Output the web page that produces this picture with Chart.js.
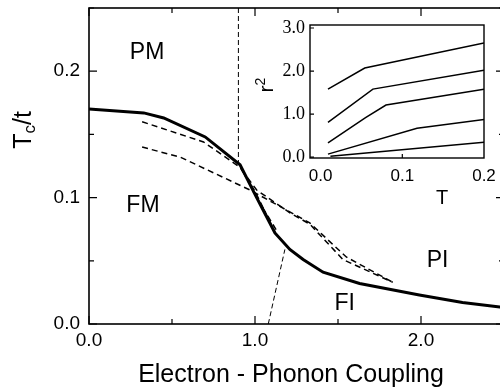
<!DOCTYPE html>
<html>
<head>
<meta charset="utf-8">
<script src="https://cdn.jsdelivr.net/npm/chart.js@4.4.0/dist/chart.umd.min.js"></script>
<style>
  html, body { margin: 0; padding: 0; background: #fff; }
  #wrap { position: relative; width: 500px; height: 389px; overflow: hidden; }
  #main { position: absolute; left: 0; top: 0; }
  #inset { position: absolute; left: 255px; top: 5px; }
</style>
</head>
<body>
<div id="wrap">
  <canvas id="main" width="506" height="389"></canvas>
  <canvas id="inset" width="245" height="210"></canvas>
</div>
<script>
// main panel: Tc/t against electron-phonon coupling
const solidX = [0, 0.33, 0.45, 0.70, 0.91, 1.01, 1.12, 1.21, 1.29, 1.41, 1.63, 1.99, 2.25, 2.5];
const solidY = [0.170, 0.167, 0.163, 0.148, 0.126, 0.100, 0.072, 0.059, 0.051, 0.041, 0.032, 0.023, 0.017, 0.013];

const upperDashX = [0.32, 0.69, 0.91, 1.00, 1.12];
const upperDashY = [0.160, 0.144, 0.124, 0.105, 0.073];
const steepDashX = [0.93, 1.01, 1.13];
const steepDashY = [0.120, 0.100, 0.074];
const rightDashX = [0.92, 1.01, 1.21, 1.33, 1.53, 1.83];
const rightDashY = [0.122, 0.106, 0.088, 0.079, 0.051, 0.033];
const lowerDashX = [0.32, 0.55, 0.97, 1.15, 1.33, 1.55, 1.83];
const lowerDashY = [0.140, 0.132, 0.106, 0.093, 0.080, 0.053, 0.033];
const vertDashX = [0.90, 0.90];
const vertDashY = [0.25, 0.124];
const footDashX = [1.08, 1.18];
const footDashY = [0.0, 0.059];

const couplingTicks = [0, 0.5, 1.0, 1.5, 2.0, 2.5];
const couplingLabels = ['0.0', '', '1.0', '', '2.0', ''];
const tcTicks = [0, 0.05, 0.1, 0.15, 0.2, 0.25];
const tcLabels = ['0.0', '', '0.1', '', '0.2', ''];

const phases = ['PM', 'FM', 'PI', 'FI'];
const phaseX = [0.35, 0.325, 2.10, 1.54];
const phaseY = [0.215, 0.094, 0.050, 0.016];

// inset: r^2 against T
const curve1T = [0.009, 0.054, 0.2];
const curve1R = [1.58, 2.07, 2.65];
const curve2T = [0.009, 0.064, 0.2];
const curve2R = [0.81, 1.58, 2.02];
const curve3T = [0.009, 0.055, 0.08, 0.2];
const curve3R = [0.33, 0.92, 1.21, 1.58];
const curve4T = [0.009, 0.118, 0.203];
const curve4R = [0.07, 0.67, 0.88];
const curve5T = [0.012, 0.203];
const curve5R = [0.02, 0.35];

const tTicks = [0, 0.1, 0.2];
const tLabels = ['0.0', '0.1', '0.2'];
const r2Ticks = [0, 1, 2, 3];
const r2Labels = ['0.0', '1.0', '2.0', '3.0'];

const SANS = '"Liberation Sans", Arial, sans-serif';
const SERIF = '"Liberation Serif", "Times New Roman", serif';

function line(xs, ys, extra) {
  return Object.assign({
    data: xs.map((x, i) => ({ x, y: ys[i] })),
    showLine: true, pointRadius: 0, borderColor: '#000', fill: false, tension: 0,
    borderWidth: 1.5
  }, extra);
}

// keep the plot area where it is set, no extra room for end labels
function pinX(h) {
  return s => { s.height = h; s.paddingLeft = 0; s.paddingRight = 0; };
}
function pinY(w) {
  return s => { s.width = w; s.paddingTop = 0; s.paddingBottom = 0; };
}

// frame + inward ticks; labelled ticks are drawn longer
const frameTicks = {
  id: 'frameTicks',
  afterDraw(chart, args, o) {
    const { ctx, chartArea: a, scales: { x, y } } = chart;
    ctx.save();
    ctx.strokeStyle = '#000';
    ctx.lineWidth = o.frame;
    ctx.strokeRect(a.left, a.top, a.right - a.left, a.bottom - a.top);
    ctx.lineWidth = 1.2;
    ctx.beginPath();
    x.ticks.forEach((t, i) => {
      const px = x.getPixelForValue(t.value);
      const len = o.xLabels[i] ? o.major : o.minor;
      if (!len) return;
      ctx.moveTo(px, a.bottom); ctx.lineTo(px, a.bottom - len);
      if (o.mirror) { ctx.moveTo(px, a.top); ctx.lineTo(px, a.top + len); }
    });
    y.ticks.forEach((t, i) => {
      const py = y.getPixelForValue(t.value);
      const len = o.yLabels[i] ? o.major : o.minor;
      ctx.moveTo(a.left, py); ctx.lineTo(a.left + len, py);
      if (o.mirror) { ctx.moveTo(a.right, py); ctx.lineTo(a.right - len, py); }
    });
    ctx.stroke();
    ctx.restore();
  }
};

const mainText = {
  id: 'mainText',
  afterDraw(chart) {
    const { ctx, scales: { x, y } } = chart;
    ctx.save();
    ctx.fillStyle = '#000';
    ctx.textAlign = 'center';
    ctx.textBaseline = 'middle';
    ctx.font = '23px ' + SANS;
    phases.forEach((p, i) => {
      ctx.fillText(p, x.getPixelForValue(phaseX[i]), y.getPixelForValue(phaseY[i]));
    });
    ctx.textBaseline = 'alphabetic';
    ctx.font = '25px ' + SANS;
    ctx.fillText('Electron - Phonon Coupling', 291, 382);
    // y title with subscript
    ctx.translate(31, 130);
    ctx.rotate(-Math.PI / 2);
    ctx.textAlign = 'left';
    ctx.font = '25px ' + SANS;
    const wT = ctx.measureText('T').width;
    ctx.font = '17px ' + SANS;
    const wc = ctx.measureText('c').width;
    ctx.font = '25px ' + SANS;
    const wt = ctx.measureText('/t').width;
    let px = -(wT + wc + wt) / 2;
    ctx.fillText('T', px, 0); px += wT;
    ctx.font = '17px ' + SANS;
    ctx.fillText('c', px, 4); px += wc;
    ctx.font = '25px ' + SANS;
    ctx.fillText('/t', px, 0);
    ctx.restore();
  }
};

new Chart(document.getElementById('main'), {
  type: 'scatter',
  data: {
    datasets: [
      line(solidX, solidY, { borderWidth: 3 }),
      line(upperDashX, upperDashY, { borderDash: [6, 4] }),
      line(steepDashX, steepDashY, { borderDash: [6, 4] }),
      line(rightDashX, rightDashY, { borderDash: [6, 4] }),
      line(lowerDashX, lowerDashY, { borderDash: [6, 4] }),
      line(vertDashX, vertDashY, { borderWidth: 1, borderDash: [5, 3] }),
      line(footDashX, footDashY, { borderWidth: 1, borderDash: [5, 3] })
    ]
  },
  options: {
    responsive: false,
    animation: false,
    layout: { padding: { left: 0, right: 2, top: 8, bottom: 2 } },
    plugins: {
      legend: { display: false },
      tooltip: { enabled: false },
      frameTicks: { frame: 1.6, major: 8, minor: 5, mirror: true, xLabels: couplingLabels, yLabels: tcLabels }
    },
    scales: {
      x: {
        type: 'linear', min: 0, max: 2.5,
        afterBuildTicks: s => { s.ticks = couplingTicks.map(v => ({ value: v })); },
        ticks: { callback: (v, i) => couplingLabels[i], autoSkip: false, maxRotation: 0, padding: 5,
                 color: '#000', font: { family: SANS, size: 19 } },
        grid: { display: false, drawTicks: false },
        border: { display: false },
        afterFit: pinX(63)
      },
      y: {
        type: 'linear', min: 0, max: 0.25,
        afterBuildTicks: s => { s.ticks = tcTicks.map(v => ({ value: v })); },
        ticks: { callback: (v, i) => tcLabels[i], autoSkip: false, padding: 9,
                 color: '#000', font: { family: SANS, size: 19 } },
        grid: { display: false, drawTicks: false },
        border: { display: false },
        afterFit: pinY(89)
      }
    }
  },
  plugins: [frameTicks, mainText]
});

const insetText = {
  id: 'insetText',
  afterDraw(chart) {
    const { ctx } = chart;
    ctx.save();
    ctx.fillStyle = '#000';
    ctx.textAlign = 'center';
    ctx.textBaseline = 'alphabetic';
    ctx.font = '20px ' + SANS;
    ctx.fillText('T', 187, 199);
    ctx.translate(18, 80);
    ctx.rotate(-Math.PI / 2);
    ctx.textAlign = 'left';
    ctx.font = '21px ' + SANS;
    const wr = ctx.measureText('r').width;
    ctx.font = '14px ' + SANS;
    const w2 = ctx.measureText('2').width;
    let px = -(wr + w2) / 2;
    ctx.font = '21px ' + SANS;
    ctx.fillText('r', px, 0); px += wr;
    ctx.font = '14px ' + SANS;
    ctx.fillText('2', px, -8);
    ctx.restore();
  }
};

new Chart(document.getElementById('inset'), {
  type: 'scatter',
  data: {
    datasets: [
      line(curve1T, curve1R),
      line(curve2T, curve2R),
      line(curve3T, curve3R),
      line(curve4T, curve4R),
      line(curve5T, curve5R)
    ]
  },
  options: {
    responsive: false,
    animation: false,
    layout: { padding: { left: 0, right: 16, top: 20, bottom: 0 } },
    plugins: {
      legend: { display: false },
      tooltip: { enabled: false },
      frameTicks: { frame: 1.4, major: 4, minor: 0, mirror: false, xLabels: ['', '0.1', ''], yLabels: r2Labels }
    },
    scales: {
      x: {
        type: 'linear', min: -0.013, max: 0.2,
        afterBuildTicks: s => { s.ticks = tTicks.map(v => ({ value: v })); },
        ticks: { callback: (v, i) => tLabels[i], autoSkip: false, maxRotation: 0, padding: 8,
                 color: '#000', font: { family: SANS, size: 17 } },
        grid: { display: false, drawTicks: false },
        border: { display: false },
        afterFit: pinX(57)
      },
      y: {
        type: 'linear', min: -0.02, max: 3.07,
        afterBuildTicks: s => { s.ticks = r2Ticks.map(v => ({ value: v })); },
        ticks: { callback: (v, i) => r2Labels[i], autoSkip: false, padding: 5,
                 color: '#000', font: { family: SERIF, size: 18 } },
        grid: { display: false, drawTicks: false },
        border: { display: false },
        afterFit: pinY(55)
      }
    }
  },
  plugins: [frameTicks, insetText]
});
</script>
</body>
</html>
